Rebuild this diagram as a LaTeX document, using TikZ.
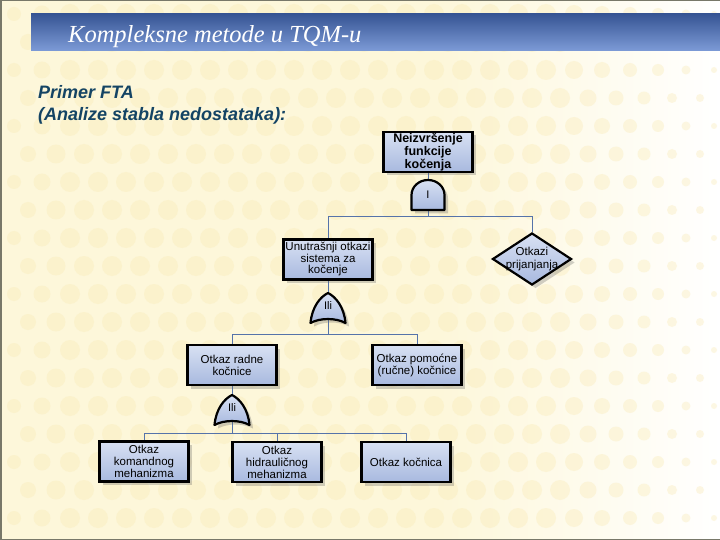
\documentclass[tikz,border=0pt]{standalone}
\usepackage{fontspec}
\setmainfont{Liberation Sans}
\newfontfamily\titlefont{Liberation Serif}
\usetikzlibrary{shapes.geometric,shadows}
\definecolor{cream}{RGB}{253,247,218}
\definecolor{dotc}{RGB}{249,233,178}
\definecolor{bannertop}{RGB}{55,85,148}
\definecolor{bannerbot}{RGB}{125,155,215}
\definecolor{navy}{RGB}{20,68,100}
\definecolor{boxtop}{RGB}{216,225,243}
\definecolor{boxbot}{RGB}{168,185,223}
\definecolor{conn}{RGB}{85,115,170}
\definecolor{framec}{RGB}{120,120,105}
\pgfdeclarelayer{bglayer}
\pgfdeclarelayer{linelayer}
\pgfsetlayers{bglayer,linelayer,main}
\tikzset{
  shad/.style={drop shadow={shadow xshift=3.5pt, shadow yshift=-3.5pt, opacity=0.3, fill=black!60}},
  fbox/.style={rectangle, draw=black, line width=2.4pt, top color=boxtop, bottom color=boxbot,
    minimum width=89pt, minimum height=40pt, inner sep=1pt, align=center,
    font=\fontsize{11.5}{12}\selectfont, shad},
  topbox/.style={fbox, font=\bfseries\fontsize{12.5}{11.5}\selectfont},
  gateshape/.style={draw=black, line width=2.2pt, line join=round, top color=boxtop, bottom color=boxbot, shad},
  gatelabel/.style={inner sep=0pt, font=\fontsize{11}{12}\selectfont},
  connector/.style={draw=conn, line width=1pt},
  dshape/.style={diamond, draw=black, line width=2.2pt, top color=boxtop, bottom color=boxbot,
    minimum width=79pt, minimum height=52pt, aspect=1.52, inner sep=0pt, shad},
  dot/.style={fill=dotc, opacity=0.35},
}
\newcommand{\myAndGate}[4]{%
  \path[gateshape] (#2-16.5,#3+15) -- (#2-16.5,#3)
    .. controls (#2-16.5,#3-8.3) and (#2-9.1,#3-15) .. (#2,#3-15)
    .. controls (#2+9.1,#3-15) and (#2+16.5,#3-8.3) .. (#2+16.5,#3)
    -- (#2+16.5,#3+15) -- cycle;
  \node[gatelabel, minimum width=33pt, minimum height=30pt] (#1) at (#2,#3) {#4};}
\newcommand{\myOrGate}[4]{%
  \path[gateshape] (#2-17.5,#3+15)
    .. controls (#2-16,#3-1) and (#2-8,#3-11) .. (#2,#3-15)
    .. controls (#2+8,#3-11) and (#2+16,#3-1) .. (#2+17.5,#3+15)
    .. controls (#2+8,#3+9.7) and (#2-8,#3+9.7) .. (#2-17.5,#3+15) -- cycle;
  \node[gatelabel, minimum width=35pt, minimum height=26pt] (#1) at (#2,#3-2) {#4};}
\begin{document}
\begin{tikzpicture}[x=1pt,y=-1pt]
\useasboundingbox (0,0) rectangle (720,540);
\begin{pgfonlayer}{bglayer}
  \fill[cream] (0,0) rectangle (720,540);
  \shade[left color=cream, right color=white] (440,0) rectangle (720,540);
  \foreach \yy in {14,70,126,182,238,294,350,406,462,518}{
    \foreach \xx/\rr in {14/7,42/8.5,70/10,98/10,126/10,154/10,182/10,210/10,238/10,266/10,294/10,322/10,350/10,378/10,406/10,434/10,462/10,490/10,518/10,546/10,574/9,602/8,630/7,658/6,686/4.5,714/3}{
      \path[dot] (\xx,\yy) circle[radius=\rr pt];
    }
  }
  \foreach \yy in {42,98,154,210,266,322,378,434,490}{
    \foreach \xx/\rr in {28/8,56/9.5,84/10,112/10,140/10,168/10,196/10,224/10,252/10,280/10,308/10,336/10,364/10,392/10,420/10,448/10,476/10,504/10,532/10,560/10,588/8.5,616/7.5,644/6.5,672/5,700/4}{
      \path[dot] (\xx,\yy) circle[radius=\rr pt];
    }
  }
  \shade[top color=bannertop, bottom color=bannerbot] (31,14) rectangle (720,51);
  \draw[framec, line width=1.5pt] (0.75,540) -- (0.75,0.75) -- (720,0.75);
  \draw[framec, line width=1.5pt] (0,539.25) -- (720,539.25);
\end{pgfonlayer}

\node[anchor=base west, inner sep=0pt, text=white, font=\titlefont\itshape\fontsize{24.5}{28}\selectfont] (title) at (68,43) {Kompleksne metode u TQM-u};
\node[anchor=base west, inner sep=0pt, text=navy, font=\bfseries\itshape\fontsize{18}{20}\selectfont] (sub1) at (38,99) {Primer FTA};
\node[anchor=base west, inner sep=0pt, text=navy, font=\bfseries\itshape\fontsize{18}{20}\selectfont] (sub2) at (38,121) {(Analize stabla nedostataka):};

% boxes
\node[topbox] (t) at (428,152) {Neizvršenje\\funkcije\\kočenja};
\myAndGate{g1}{428}{195}{I}
\node[fbox, font=\fontsize{11.5}{11.5}\selectfont] (b2) at (328,259.5) {Unutrašnji otkazi\\sistema za\\kočenje};
\node[dshape] (d1) at (532,259) {};
\node[gatelabel, align=center, font=\fontsize{11.5}{13}\selectfont] (d1t) at (d1.center) {Otkazi\\prijanjanja};
\myOrGate{g2}{328}{308}{Ili}
\node[fbox] (b3) at (232,365) {Otkaz radne\\kočnice};
\node[fbox] (b4) at (417,365) {Otkaz pomoćne\\(ručne) kočnice};
\myOrGate{g3}{232}{410}{Ili}
\node[fbox] (b5) at (144,461.5) {Otkaz\\komandnog\\mehanizma};
\node[fbox] (b6) at (277,462) {Otkaz\\hidrauličnog\\mehanizma};
\node[fbox] (b7) at (406,462) {Otkaz kočnica};

\coordinate (bus1) at (0,217);
\coordinate (bus2) at (0,334);
\coordinate (bus3) at (0,433);
\begin{pgfonlayer}{linelayer}
  \draw[connector] (t.south) -- (g1.north);
  \draw[connector] (g1.south) -- (g1.south |- bus1) -| (b2.north);
  \draw[connector] (g1.south |- bus1) -| (d1.north);
  \draw[connector] (b2.south) -- (g2.north);
  \draw[connector] (g2.south) -- (g2.south |- bus2) -| (b3.north);
  \draw[connector] (g2.south |- bus2) -| (b4.north);
  \draw[connector] (b3.south) -- (g3.north);
  \draw[connector] (g3.south) -- (g3.south |- bus3) -| (b5.north);
  \draw[connector] (g3.south |- bus3) -| (b6.north);
  \draw[connector] (g3.south |- bus3) -| (b7.north);
\end{pgfonlayer}
\end{tikzpicture}
\end{document}
